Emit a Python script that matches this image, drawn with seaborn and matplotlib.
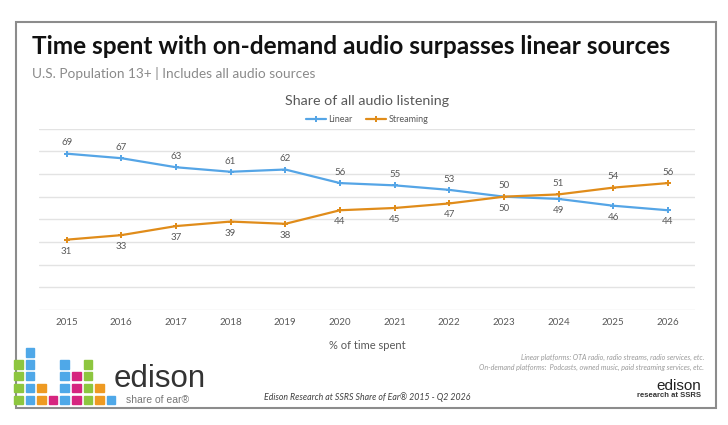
import matplotlib
matplotlib.use("Agg")
import matplotlib.pyplot as plt
import pandas as pd
import seaborn as sns
from matplotlib.patches import Rectangle

# data
years = [str(y) for y in range(2015, 2027)]
linear = [69, 67, 63, 61, 62, 56, 55, 53, 50, 49, 46, 44]
streaming = [31, 33, 37, 39, 38, 44, 45, 47, 50, 51, 54, 56]
series_names = ["Linear", "Streaming"]
series_colors = ["#55a5e6", "#e08c1a"]

df = pd.DataFrame({"Year": years * 2,
                   "x": list(range(len(years))) * 2,
                   "Share": linear + streaming,
                   "Source": ["Linear"] * len(years) + ["Streaming"] * len(years)})

sns.set_theme(style="white")
plt.rcParams["font.family"] = ["Lato", "DejaVu Sans"]

fig = plt.figure(figsize=(7.28, 4.25), dpi=100)
ax = fig.add_axes([0.054, 0.271, 0.901, 0.426])

sns.lineplot(data=df, x="x", y="Share", hue="Source", hue_order=series_names,
             palette=series_colors, marker="P", markersize=4, markeredgewidth=0,
             linewidth=1.6, ax=ax)

# data labels: higher line above, lower line below
for i in range(len(years)):
    a, b = linear[i], streaming[i]
    lin_up = a > b
    for val, up in ((a, lin_up), (b, not lin_up)):
        ax.annotate(str(val), (i, val), xytext=(0, 4.5 if up else -5),
                    textcoords="offset points", ha="center",
                    va="bottom" if up else "top", fontsize=7, color="#595959")

ax.set_xlim(-0.5, len(years) - 0.5)
ax.set_ylim(0, 80)
ax.set_yticks(range(0, 81, 10))
ax.set_yticklabels([])
ax.set_xticks(range(len(years)))
ax.set_xticklabels(years, fontsize=7, color="#595959")
ax.tick_params(axis="both", length=0, pad=6)
ax.grid(axis="y", color="#e3e3e3", linewidth=1)
for s in ax.spines.values():
    s.set_visible(False)
ax.set_xlabel("% of time spent", fontsize=8, color="#595959", labelpad=9)
ax.set_ylabel("")

ax.legend(loc="center", bbox_to_anchor=(0.5, 1 + 9 / 181), ncol=2, frameon=False,
          fontsize=6.5, handlelength=2.2, columnspacing=1.5, handletextpad=0.3,
          labelcolor="#595959")

# frame and headings
fig.patches.append(Rectangle((16 / 728, 1 - 408 / 425), 700 / 728, 386 / 425,
                             transform=fig.transFigure, fill=False,
                             edgecolor="#8c8c8c", linewidth=1.5))
fig.text(32 / 728, 1 - 47 / 425, "Time spent with on-demand audio surpasses linear sources",
         fontsize=17.6, fontweight="bold", color="#111111", va="center")
fig.text(32 / 728, 1 - 73 / 425, "U.S. Population 13+ | Includes all audio sources",
         fontsize=9.8, color="#8a8a8a", va="center")
fig.text(367 / 728, 1 - 101 / 425, "Share of all audio listening",
         fontsize=10.3, color="#595959", ha="center", va="center")

# footer notes
fig.text(704 / 728, 1 - 357 / 425,
         "Linear platforms: OTA radio, radio streams, radio services, etc.",
         fontsize=5.1, style="italic", color="#9a9a9a", ha="right", va="center")
fig.text(704 / 728, 1 - 367 / 425,
         "On-demand platforms:  Podcasts, owned music, paid streaming services, etc.",
         fontsize=5.1, style="italic", color="#9a9a9a", ha="right", va="center")
fig.text(367 / 728, 1 - 397 / 425,
         "Edison Research at SSRS Share of Ear\u00ae 2015 - Q2 2026",
         fontsize=6.3, style="italic", color="#404040", ha="center", va="center")

# edison share of ear logo squares (column heights and colours bottom-up)
green, blue, orange, pink = "#8dc63f", "#4fa8e8", "#ee9a22", "#d6257f"
logo_cols = [[green] * 4, [blue] * 5, [orange] * 2, [pink], [blue] * 4,
             [pink] * 3, [green] * 4, [orange] * 2, [blue]]
for c, col in enumerate(logo_cols):
    for r, colour in enumerate(col):
        x0 = 14 + c * 11.6
        y0 = 404 - r * 11.8
        fig.patches.append(Rectangle((x0 / 728, 1 - y0 / 425), 8.5 / 728, 8.5 / 425,
                                     transform=fig.transFigure, color=colour))
fig.text(114 / 728, 1 - 394 / 425, "edison", fontsize=22.5, color="#333333",
         family="Liberation Sans", va="bottom")
fig.text(126 / 728, 1 - 395 / 425, "share of ear\u00ae", fontsize=7.5, color="#777777",
         family="Liberation Sans", va="top")

fig.text(701 / 728, 1 - 390 / 425, "edison", fontsize=11, color="#222222",
         family="Liberation Sans", ha="right", va="baseline")
fig.text(701 / 728, 1 - 392 / 425, "research at SSRS", fontsize=5.5, color="#333333",
         family="Liberation Sans", fontweight="bold", ha="right", va="top")

fig.savefig("out.png", dpi=100, facecolor="white")
